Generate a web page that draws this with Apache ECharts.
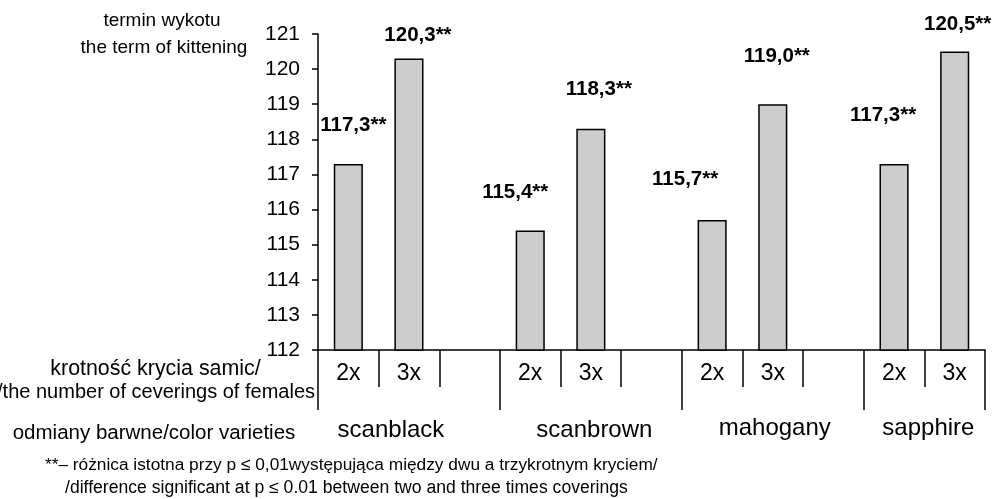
<!DOCTYPE html>
<html><head><meta charset="utf-8">
<script src="https://cdn.jsdelivr.net/npm/echarts@6/dist/echarts.min.js"></script>
<style>html,body{margin:0;padding:0;background:#fff}#c{width:993px;height:499px}</style>
</head><body><div id="c"></div>
<script>
// ---- data ----
const slots = ['2x','3x','','2x','3x','','2x','3x','','2x','3x'];
const values = [117.3,120.3,null,115.4,118.3,null,115.7,119.0,null,117.3,120.5];
const yMin = 112, yMax = 121, yStep = 1;
const groupNames = ['scanblack','scanbrown','mahogany','sapphire'];
const groupStarts = [0,3,6,9];
const groupEnds = [3,6,9,11];
const yTitle = ['termin wykotu','the term of kittening'];
const xTitle = ['krotność krycia samic/','/the number of ceverings of females'];
const groupTitle = 'odmiany barwne/color varieties';
const footnote = ['**\u2013 różnica istotna przy p \u2264 0,01występująca między dwu a trzykrotnym kryciem/',
                  '/difference significant at p \u2264 0.01 between two and three times coverings'];

// ---- styles ----
const FF = '"Liberation Sans", Arial, Helvetica, sans-serif';
const labelOffsets = [[5,-23],[9,-8],null,[-15,-23],[8,-24],null,[-27,-25],[4,-32],null,[-11,-33],[3,-12]];
const groupDx = [-18, 3.5, 2, 4];
const groupY = [430, 430, 428, 428];

const chart = echarts.init(document.getElementById('c'), null, {renderer:'canvas'});
const barData = values.map((v,i) => v == null ? null : {
  value: v,
  label: { offset: labelOffsets[i] }
});

chart.setOption({
  animation: false,
  backgroundColor: '#fff',
  grid: { left: 318, right: 8, top: 34, bottom: 149, containLabel: false },
  xAxis: [{
    type: 'category', data: slots, position: 'bottom',
    axisLine: { show: true, lineStyle: { color: '#000', width: 1.5 } },
    axisTick: { show: true, interval: 0, length: 37, lineStyle: { color: '#000', width: 1.5 } },
    axisLabel: { show: true, interval: 0, fontSize: 23, color: '#000', fontFamily: FF, margin: 12 },
    splitLine: { show: false }
  }, {
    type: 'category', data: slots, position: 'bottom',
    axisLine: { show: false },
    axisTick: { show: true, length: 60, interval: (i) => groupStarts.indexOf(i) >= 0, lineStyle: { color: '#000', width: 1.5 } },
    axisLabel: { show: false },
    splitLine: { show: false }
  }],
  yAxis: {
    type: 'value', min: yMin, max: yMax, interval: yStep,
    axisLine: { show: true, lineStyle: { color: '#000', width: 1.5 } },
    axisTick: { show: true, length: 6, lineStyle: { color: '#000', width: 1.5 } },
    axisLabel: { fontSize: 21, color: '#000', fontFamily: FF, margin: 18 },
    splitLine: { show: false }
  },
  series: [{
    type: 'bar', xAxisIndex: 0, data: barData, barWidth: '48%',
    itemStyle: { color: '#cccccc', borderColor: '#000', borderWidth: 1.5 },
    label: {
      show: true, position: 'top', distance: 5,
      fontSize: 20.5, fontWeight: 'bold', color: '#000', fontFamily: FF,
      formatter: p => p.value.toFixed(1).replace('.', ',') + '**'
    }
  }]
});

// group labels positioned from the category scale
const c0 = chart.convertToPixel({xAxisIndex:0}, 0);
const c1 = chart.convertToPixel({xAxisIndex:0}, 1);
const band = c1 - c0;
const startPx = c0 - band/2;
const graphics = [];
groupNames.forEach((n, g) => {
  const mid = startPx + band * (groupStarts[g] + groupEnds[g]) / 2;
  graphics.push({ type:'text', x: mid + groupDx[g], y: groupY[g],
    style: { text: n, fontSize: 24, fontFamily: FF, fill: '#000', align: 'center', verticalAlign: 'middle' } });
});
const txt = (t, x, y, size, align) => ({ type:'text', x, y,
  style: { text: t, fontSize: size, fontFamily: FF, fill: '#000', align: align || 'center', verticalAlign: 'middle' } });
graphics.push(txt(yTitle[0], 162, 21, 19));
graphics.push(txt(yTitle[1], 164, 48, 19));
graphics.push(txt(xTitle[0], 155.5, 369, 21.4));
graphics.push(txt(xTitle[1], 315, 392, 20, 'right'));
graphics.push(txt(groupTitle, 154, 433, 20.5));
graphics.push(txt(footnote[0], 45, 465, 17.3, 'left'));
graphics.push(txt(footnote[1], 65, 488, 17.6, 'left'));
chart.setOption({ graphic: graphics });
</script>
</body></html>
